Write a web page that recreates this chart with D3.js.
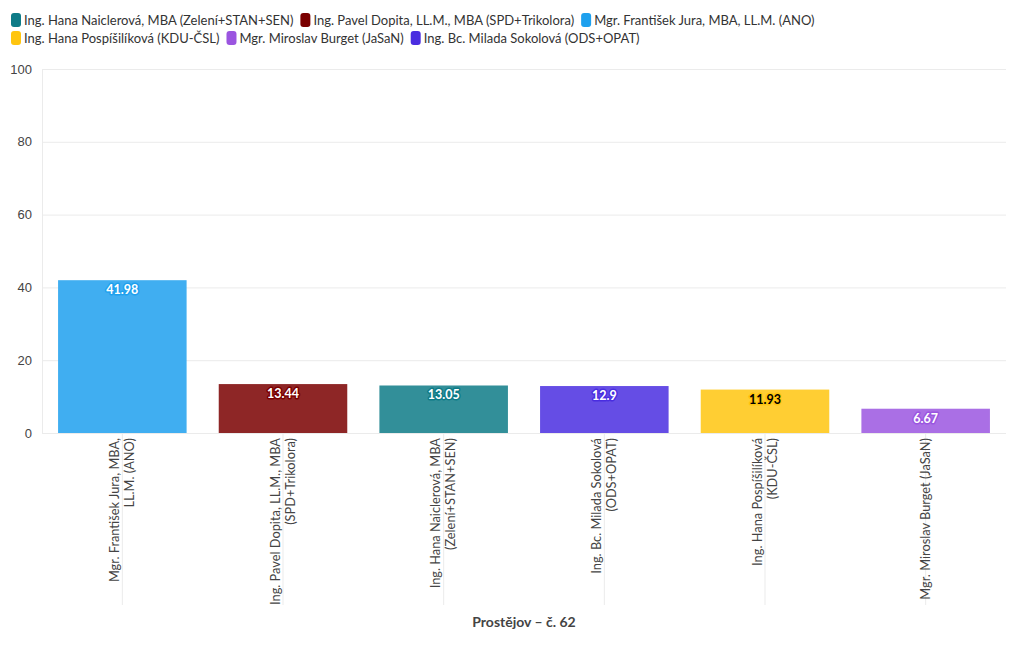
<!DOCTYPE html>
<html><head><meta charset="utf-8">
<script src="https://cdn.jsdelivr.net/npm/d3@7"></script>
<style>
body{margin:0;background:#fff;}
svg{font-family:"Source Sans Pro",Lato,"Noto Sans",sans-serif;}
</style></head>
<body><svg id="c" width="1020" height="650"></svg>
<script>
// Data
const legendNames = ["Ing. Hana Naiclerová, MBA (Zelení+STAN+SEN)","Ing. Pavel Dopita, LL.M., MBA (SPD+Trikolora)","Mgr. František Jura, MBA, LL.M. (ANO)","Ing. Hana Pospíšilíková (KDU-ČSL)","Mgr. Miroslav Burget (JaSaN)","Ing. Bc. Milada Sokolová (ODS+OPAT)"];
const legendColors = ["#0e7b87","#7a0000","#1ea0ee","#ffc50f","#9b55e0","#4a2de0"];
const categories = ["Mgr. František Jura, MBA, LL.M. (ANO)","Ing. Pavel Dopita, LL.M., MBA (SPD+Trikolora)","Ing. Hana Naiclerová, MBA (Zelení+STAN+SEN)","Ing. Bc. Milada Sokolová (ODS+OPAT)","Ing. Hana Pospíšilíková (KDU-ČSL)","Mgr. Miroslav Burget (JaSaN)"];
const categoryLines = [["Mgr. František Jura, MBA,","LL.M. (ANO)"],["Ing. Pavel Dopita, LL.M., MBA","(SPD+Trikolora)"],["Ing. Hana Naiclerová, MBA","(Zelení+STAN+SEN)"],["Ing. Bc. Milada Sokolová","(ODS+OPAT)"],["Ing. Hana Pospíšilíková","(KDU-ČSL)"],["Mgr. Miroslav Burget (JaSaN)"]];
const values = [41.98,13.44,13.05,12.9,11.93,6.67];
const barColors = ["#1ea0ee","#7a0000","#0e7b87","#4a2de0","#ffc50f","#9b55e0"];
const labelTextColors = ["#fff","#fff","#fff","#fff","#000","#fff"];
const yTicks = [0,20,40,60,80,100];
const xTitle = "Prostějov – č. 62";

const svg = d3.select("#c");
const M = {l:42, r:1006, t:69, b:433};
const x = d3.scaleBand().domain(categories).range([M.l, M.r]).paddingInner(0.2).paddingOuter(0.1);
const y = d3.scaleLinear().domain([0,100]).range([M.b, M.t]);
const light = c => { const k=d3.rgb(c); const a=0.85; return d3.rgb(k.r*a+255*(1-a), k.g*a+255*(1-a), k.b*a+255*(1-a)).formatHex(); };

// Grid
const yAxis = d3.axisLeft(y).tickValues(yTicks).tickSize(-(M.r-M.l)).tickPadding(10);
const gy = svg.append("g").attr("transform",`translate(${M.l},0)`).call(yAxis);
gy.select(".domain").remove();
gy.selectAll(".tick line").attr("stroke","#ebebeb");
gy.selectAll(".tick text").attr("fill","#444").style("font-size","13px");
svg.append("line").attr("x1",M.l+0.5).attr("x2",M.l+0.5).attr("y1",M.t).attr("y2",M.b).attr("stroke","#ebebeb");

// X axis ticks below
const xAxis = d3.axisBottom(x).tickSize(172).tickFormat("");
const gx = svg.append("g").attr("transform",`translate(0,${M.b})`).call(xAxis);
gx.select(".domain").remove();
gx.selectAll(".tick line").attr("stroke","#ebebeb");

// Bars
svg.append("g").selectAll("rect").data(values).join("rect")
  .attr("x",(d,i)=>x(categories[i])).attr("width",x.bandwidth())
  .attr("y",d=>y(d)).attr("height",d=>y(0)-y(d))
  .attr("fill",(d,i)=>light(barColors[i]));

// Value labels
svg.append("g").selectAll("text").data(values).join("text")
  .attr("x",(d,i)=>x(categories[i])+x.bandwidth()/2)
  .attr("y",d=>y(d)+14)
  .attr("text-anchor","middle")
  .style("font-size","12.5px").style("font-weight","bold")
  .attr("fill",(d,i)=>labelTextColors[i])
  .attr("stroke",(d,i)=>barColors[i]).attr("stroke-width",3).attr("stroke-linejoin","round")
  .attr("paint-order","stroke")
  .text(d=>d);

// Category labels
const lh = 15;
categories.forEach((c,i)=>{
  const lines = categoryLines[i];
  const cx = x(c)+x.bandwidth()/2;
  const t = svg.append("text")
    .attr("transform",`translate(${cx},${M.b+5}) rotate(-90)`)
    .attr("text-anchor","end").attr("fill","#444").style("font-size","12.8px");
  const off = -(lines.length-1)*lh/2;
  lines.forEach((ln,j)=>{
    t.append("tspan").attr("x",0).attr("y",off+j*lh+4.3).text(ln);
  });
});

// X title
svg.append("text").attr("x",(M.l+M.r)/2).attr("y",627).attr("text-anchor","middle")
  .attr("fill","#444").style("font-size","14px").style("font-weight","bold").text(xTitle);

// Legend
const lg = svg.append("g");
let lx = 11, ly = 13;
legendNames.forEach((n,i)=>{
  const g = lg.append("g");
  g.append("rect").attr("width",10).attr("height",14).attr("rx",3).attr("fill",legendColors[i]);
  const t = g.append("text").attr("x",13).attr("y",11.5).attr("fill","#333").style("font-size","13px").text(n);
  const w = 13 + t.node().getComputedTextLength();
  if (lx + w > 1010) { lx = 11; ly += 18; }
  g.attr("transform",`translate(${lx},${ly})`);
  lx += w + 7;
});
</script></body></html>
